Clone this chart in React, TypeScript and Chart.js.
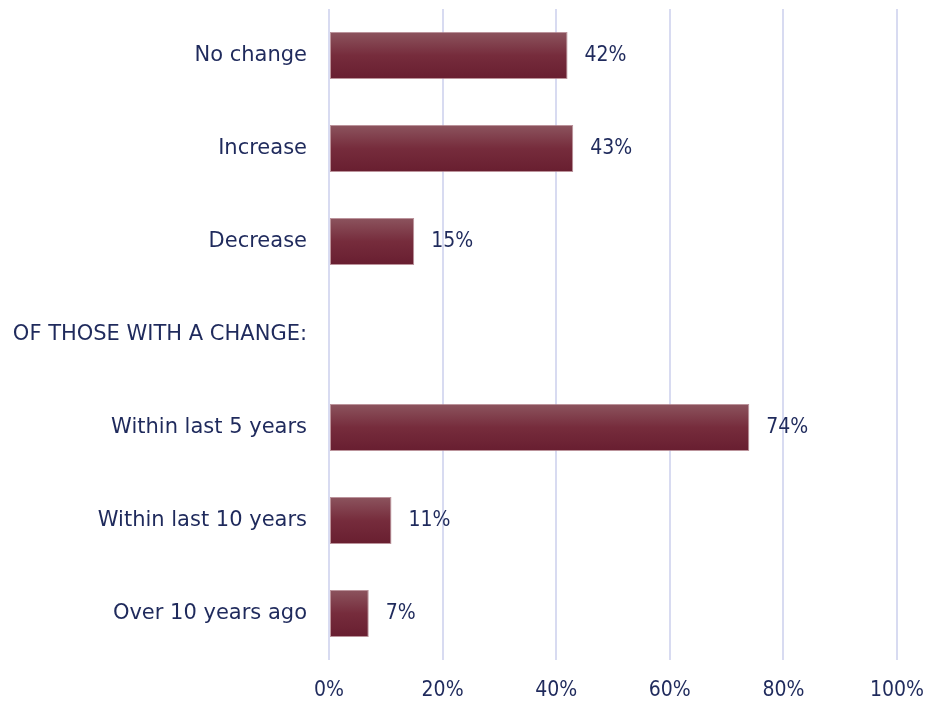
import React, { useEffect, useRef } from "react";
import { Chart, registerables } from "chart.js";

Chart.register(...registerables);

const categories = [
  "No change",
  "Increase",
  "Decrease",
  "OF THOSE WITH A CHANGE:",
  "Within last 5 years",
  "Within last 10 years",
  "Over 10 years ago",
];
const values: (number | null)[] = [42, 43, 15, null, 74, 11, 7];
const xTicks = [0, 20, 40, 60, 80, 100];

const TEXT = "#1f2a5c";
const FONT = "'DejaVu Sans'";
const NUM_FONT = "'DejaVu Sans Condensed', 'DejaVu Sans'";

const valueLabels = {
  id: "valueLabels",
  afterDatasetsDraw(chart: any) {
    const ctx = chart.ctx;
    const meta = chart.getDatasetMeta(0);
    ctx.save();
    ctx.fillStyle = TEXT;
    ctx.font = `21px ${NUM_FONT}`;
    ctx.textAlign = "left";
    ctx.textBaseline = "middle";
    meta.data.forEach((bar: any, i: number) => {
      const v = values[i];
      if (v == null) return;
      ctx.fillText(`${v}%`, bar.x + 17, bar.y);
    });
    ctx.restore();
  },
};

export default function App() {
  const ref = useRef<HTMLCanvasElement | null>(null);
  useEffect(() => {
    if (!ref.current) return;
    const chart = new Chart(ref.current, {
      type: "bar",
      data: {
        labels: categories,
        datasets: [
          {
            data: values,
            backgroundColor: (c: any) => {
              const ch = c.chart;
              const y = ch.scales?.y;
              if (!y || c.dataIndex == null) return "#75293a";
              const cy = y.getPixelForValue(c.dataIndex);
              if (!Number.isFinite(cy)) return "#75293a";
              const h = 47;
              const g = ch.ctx.createLinearGradient(0, cy - h / 2, 0, cy + h / 2);
              g.addColorStop(0, "#8c545e");
              g.addColorStop(0.5, "#762c3c");
              g.addColorStop(1, "#681e30");
              return g;
            },
            borderColor: "rgba(170,120,130,0.8)",
            borderWidth: 1,
            borderSkipped: false,
            barPercentage: 0.505,
            categoryPercentage: 1,
          },
        ],
      },
      options: {
        indexAxis: "y",
        animation: false,
        responsive: true,
        maintainAspectRatio: false,
        layout: { padding: { top: 9, right: 28, left: 0, bottom: 0 } },
        plugins: { legend: { display: false }, tooltip: { enabled: false } },
        scales: {
          x: {
            min: 0,
            max: 100,
            afterBuildTicks: (s: any) => {
              s.ticks = xTicks.map((v) => ({ value: v }));
            },
            afterFit: (s: any) => {
              s.height = 42;
              s.paddingLeft = 0;
              s.paddingRight = 0;
            },
            grid: { color: "#d8dbf1", lineWidth: 2, drawTicks: false },
            border: { display: false },
            ticks: {
              color: TEXT,
              font: { family: NUM_FONT, size: 21 },
              padding: 18,
              callback: (v: any) => `${v}%`,
            },
          },
          y: {
            afterFit: (s: any) => {
              s.width = 329;
              s.paddingTop = 0;
              s.paddingBottom = 0;
            },
            grid: { display: false, drawTicks: false },
            border: { display: false },
            ticks: {
              color: TEXT,
              font: { family: FONT, size: 21 },
              padding: 22,
            },
          },
        },
      },
      plugins: [valueLabels],
    });
    return () => chart.destroy();
  }, []);
  return (
    <div style={{ position: "fixed", left: 0, top: 0, width: 925, height: 702, background: "#fff" }}>
      <canvas ref={ref} />
    </div>
  );
}
